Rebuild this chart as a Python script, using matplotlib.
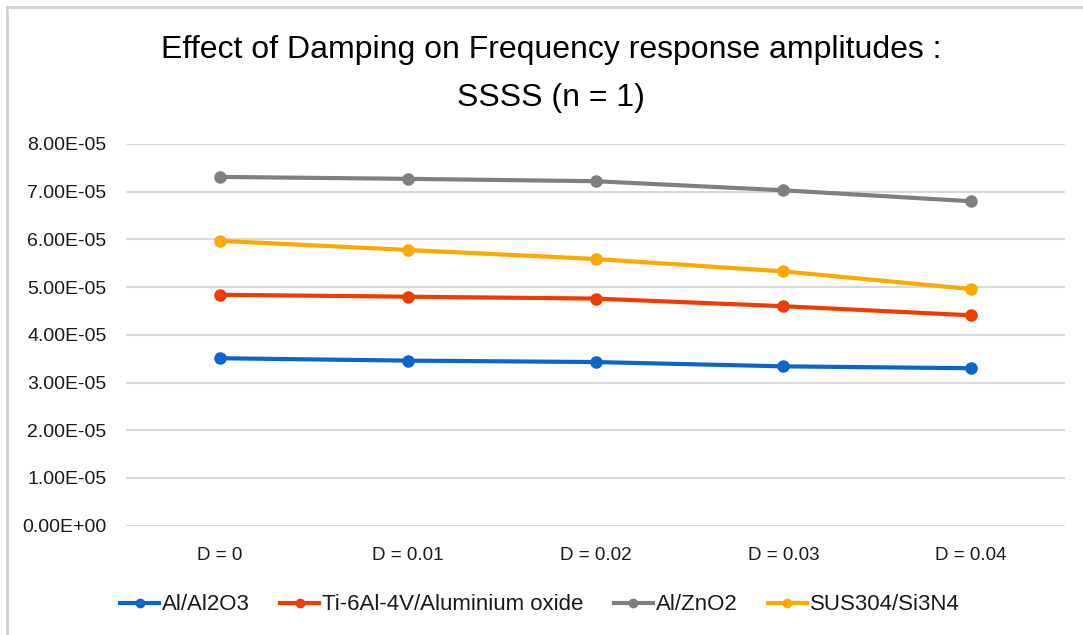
import matplotlib
matplotlib.use("Agg")
import matplotlib.pyplot as plt
from matplotlib.lines import Line2D
from matplotlib.ticker import FuncFormatter, MultipleLocator

# Damping levels and frequency response amplitudes per material pair
categories = ["D = 0", "D = 0.01", "D = 0.02", "D = 0.03", "D = 0.04"]
al_al2o3 = [3.51e-05, 3.46e-05, 3.43e-05, 3.34e-05, 3.30e-05]
ti_alox = [4.84e-05, 4.80e-05, 4.76e-05, 4.60e-05, 4.41e-05]
al_zno2 = [7.31e-05, 7.27e-05, 7.22e-05, 7.03e-05, 6.80e-05]
sus_si3n4 = [5.97e-05, 5.78e-05, 5.59e-05, 5.33e-05, 4.96e-05]
series_names = ["Al/Al2O3", "Ti-6Al-4V/Aluminium oxide", "Al/ZnO2", "SUS304/Si3N4"]
title_text = "Effect of Damping on Frequency response amplitudes :\nSSSS (n = 1)"

colors = ["#0b66cc", "#f03c00", "#7f7f7f", "#ffa800"]
series = [al_al2o3, ti_alox, al_zno2, sus_si3n4]

W, H = 1083, 635
fig = plt.figure(figsize=(W / 100, H / 100), dpi=100)
fig.patch.set_facecolor("white")

body_font = ["Liberation Sans", "DejaVu Sans"]

# chart-area frame (top and left edges visible)
fig.add_artist(Line2D([7 / W, 7 / W], [0, 1 - 7 / H], color="#d0d0d0", lw=2,
                      transform=fig.transFigure))
fig.add_artist(Line2D([7 / W, 1], [1 - 7 / H, 1 - 7 / H], color="#d0d0d0", lw=2,
                      transform=fig.transFigure))

left, right = 126, 1065
top, bottom = 144, 525.7
ax = fig.add_axes([left / W, (H - bottom) / H, (right - left) / W, (bottom - top) / H])

x = list(range(len(categories)))
for vals, c in zip(series, colors):
    ax.plot(x, vals, color=c, lw=3.0, marker="o", ms=8, solid_capstyle="round")

ax.set_xlim(-0.5, len(categories) - 0.5)
ax.set_ylim(0, 8e-05)
ax.yaxis.set_major_locator(MultipleLocator(1e-05))
ax.yaxis.set_major_formatter(FuncFormatter(lambda v, p: f"{v:.2E}"))
ax.set_xticks(x)
ax.set_xticklabels(categories)
ax.grid(axis="y", color="#d9d9d9", lw=1.5)
ax.set_axisbelow(True)
for s in ax.spines.values():
    s.set_visible(False)
ax.tick_params(axis="y", length=0, labelsize=14, pad=14)
ax.tick_params(axis="x", length=0, labelsize=13.5, pad=15)
for lab in ax.get_xticklabels() + ax.get_yticklabels():
    lab.set_family(body_font)
    lab.set_color("#1a1a1a")

fig.text(551 / W, 1 - 74 / H, title_text, ha="center", va="center",
         fontsize=23, family=body_font, color="#000000", linespacing=1.8)

handles = [Line2D([0], [0], color=c, lw=3.0, marker="o", ms=6) for c in colors]
leg = fig.legend(handles, series_names, loc="center", bbox_to_anchor=(540 / W, 1 - 605 / H),
                 ncol=4, frameon=False, handlelength=1.75, handletextpad=0.15,
                 columnspacing=1.35, prop={"family": body_font, "size": 16})
for t in leg.get_texts():
    t.set_color("#1a1a1a")

fig.savefig("out.png", dpi=100, facecolor="white")
